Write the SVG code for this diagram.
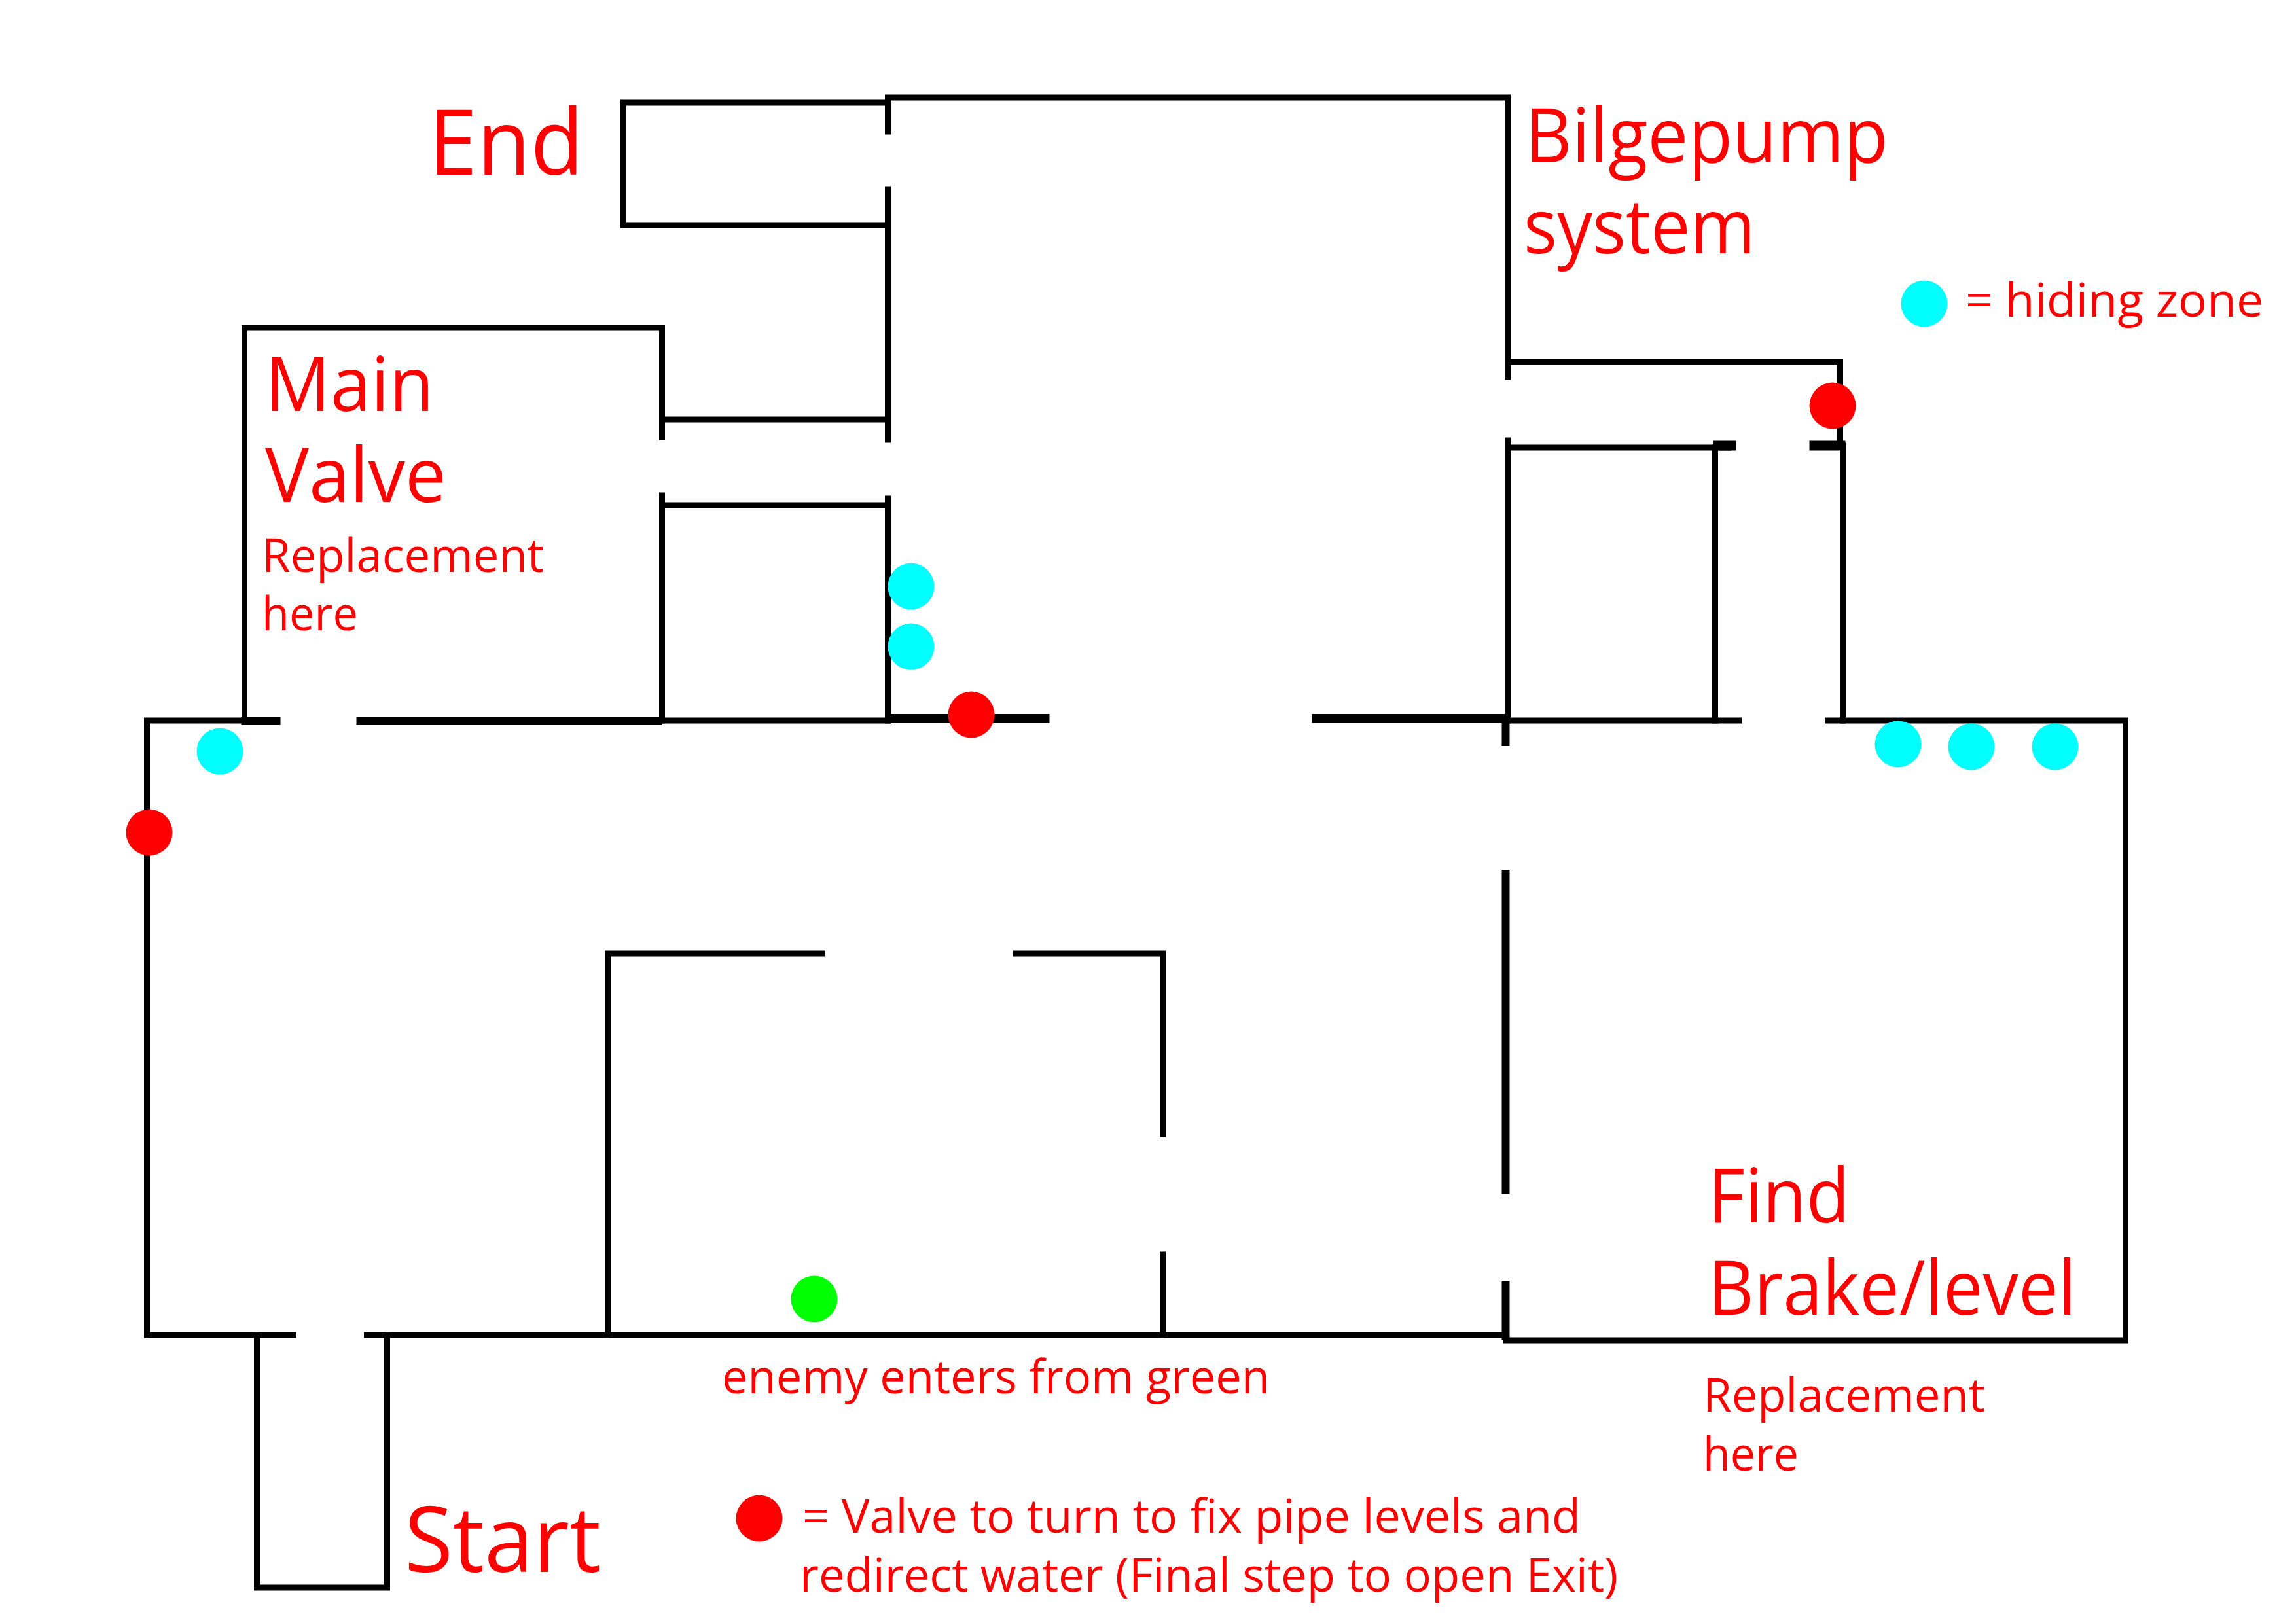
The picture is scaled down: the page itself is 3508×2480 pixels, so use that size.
<svg xmlns="http://www.w3.org/2000/svg" width="3508" height="2480" viewBox="0 0 3508 2480">
<style>
.w{stroke:#000;stroke-width:9;fill:none;stroke-linecap:square;stroke-linejoin:miter}
.t{stroke:#000;stroke-width:12;fill:none}
.m{stroke:#000;stroke-width:14;fill:none}
.h{stroke:#000;stroke-width:15;fill:none}
text{font-family:"Open Sans","Noto Sans","Liberation Sans",sans-serif;fill:#f00}
.l{font-size:115px}.x{font-size:140px}.s{font-size:71px}
.c{fill:#0ff}.r{fill:#f00}.g{fill:#0f0}
</style>
<rect width="3508" height="2480" fill="#fff"/>
<g id="walls" transform="translate(0.5 1)">
<path class="w" d="M1356 200V148H2303V575"/>
<path class="w" d="M1356 156H952V343H1356"/>
<path class="w" d="M1356 288V671"/>
<path class="w" d="M373 1100V500H1011V667"/>
<path class="w" d="M1011 640H1356"/>
<path class="w" d="M1011 756V1100"/>
<path class="w" d="M1011 771H1356"/>
<path class="w" d="M1356 761V1100"/>
<path class="w" d="M224 2039V1100H370"/>
<path class="t" d="M368 1101H428M544 1101H1011"/>
<path class="w" d="M1011 1100H1356"/>
<path class="m" d="M1356 1097H1603M2004 1097H2299"/>
<path class="w" d="M2303 1100H2656"/>
<path class="t" d="M2300 1100V1139M2300 1328V1824M2300 1956V2047"/>
<path class="w" d="M2303 552H2811V675"/>
<path class="w" d="M2303 672V1100"/>
<path class="w" d="M2303 683H2640"/>
<path class="h" d="M2617 680H2652M2764 680H2819"/>
<path class="w" d="M2620 683V1100"/>
<path class="w" d="M2815 680V1100"/>
<path class="w" d="M2792 1100H3247V2047H2300"/>
<path class="w" d="M224 2039H448M560 2039H2300"/>
<path class="w" d="M392 2039V2425H591V2039"/>
<path class="w" d="M1256 1456H928V2039"/>
<path class="w" d="M1552 1456H1776V1732M1776 1916V2039"/>
</g>
<g id="markers">
<circle class="c" cx="1392" cy="896" r="35.5"/>
<circle class="c" cx="1392" cy="988" r="35.5"/>
<circle class="c" cx="336" cy="1148" r="35.5"/>
<circle class="c" cx="2900" cy="1137" r="35.5"/>
<circle class="c" cx="3012" cy="1141" r="35.5"/>
<circle class="c" cx="3140" cy="1141" r="35.5"/>
<circle class="c" cx="2940" cy="464" r="35.5"/>
<circle class="r" cx="2800" cy="620" r="35.5"/>
<circle class="r" cx="1484" cy="1092" r="35.5"/>
<circle class="r" cx="228" cy="1272" r="35.5"/>
<circle class="r" cx="1160" cy="2320" r="35.5"/>
<circle class="g" cx="1244" cy="1985" r="35.5"/>
</g>
<g id="labels">
<text class="x" x="655" y="267" textLength="237" lengthAdjust="spacingAndGlyphs">End</text>
<text class="l" x="405" y="628" textLength="258" lengthAdjust="spacingAndGlyphs">Main</text>
<text class="l" x="405" y="767" textLength="277" lengthAdjust="spacingAndGlyphs">Valve</text>
<text class="s" x="400" y="874" textLength="431" lengthAdjust="spacingAndGlyphs">Replacement</text>
<text class="s" x="400" y="963" textLength="147" lengthAdjust="spacingAndGlyphs">here</text>
<text class="l" x="2330" y="248" textLength="555" lengthAdjust="spacingAndGlyphs">Bilgepump</text>
<text class="l" x="2328" y="387" textLength="354" lengthAdjust="spacingAndGlyphs">system</text>
<text class="s" x="3003" y="484" textLength="455" lengthAdjust="spacingAndGlyphs">= hiding zone</text>
<text class="l" x="2610" y="1868" textLength="216" lengthAdjust="spacingAndGlyphs">Find</text>
<text class="l" x="2610" y="2009" textLength="562" lengthAdjust="spacingAndGlyphs">Brake/level</text>
<text class="s" x="2602" y="2157" textLength="431" lengthAdjust="spacingAndGlyphs">Replacement</text>
<text class="s" x="2602" y="2247" textLength="146" lengthAdjust="spacingAndGlyphs">here</text>
<text class="s" x="1103" y="2129" textLength="837" lengthAdjust="spacingAndGlyphs">enemy enters from green</text>
<text class="x" x="618" y="2402" textLength="300" lengthAdjust="spacingAndGlyphs">Start</text>
<text class="s" x="1226" y="2342" textLength="1189" lengthAdjust="spacingAndGlyphs">= Valve to turn to fix pipe levels and</text>
<text class="s" x="1222" y="2432" textLength="1250" lengthAdjust="spacingAndGlyphs">redirect water (Final step to open Exit)</text>
</g>
</svg>
